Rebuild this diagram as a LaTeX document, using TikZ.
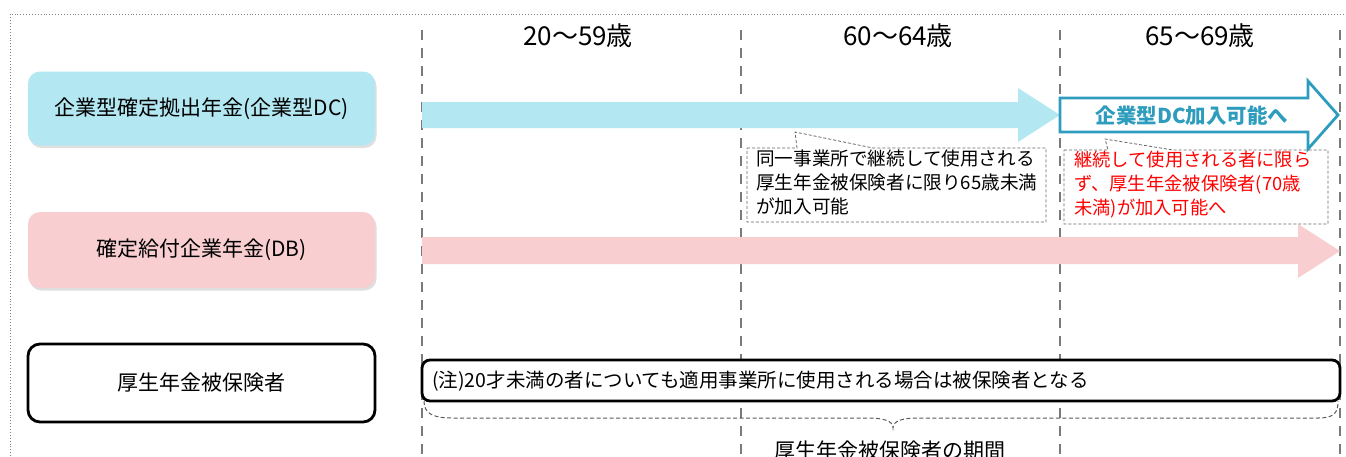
\documentclass[tikz,border=0pt]{standalone}
\usepackage{fontspec}
\setmainfont{Noto Sans CJK JP}
\usetikzlibrary{shadows}
\definecolor{dccyan}{HTML}{B3E7F1}
\definecolor{dbpink}{HTML}{F8CED1}
\definecolor{teal2}{HTML}{2E9DBD}
\definecolor{gridgray}{HTML}{7A7A7A}
\begin{document}
\begin{tikzpicture}[x=1pt,y=-1pt,
  agelabel/.style={font=\fontsize{26}{28}\selectfont, inner sep=0},
  leftbox/.style={rounded corners=12pt, minimum width=347pt, minimum height=74pt, inner sep=0,
     font=\fontsize{21}{24}\selectfont},
  shadowed/.style={drop shadow={opacity=0.25, shadow xshift=1.5pt, shadow yshift=-2.5pt}},
  vline/.style={gridgray, line width=2.8pt, dash pattern=on 10pt off 8pt},
  notebox/.style={draw=gray!80!black, densely dashed, line width=0.8pt},
  notetext/.style={font=\fontsize{18.6}{24}\selectfont, align=left, inner sep=0, anchor=north west},
]
\useasboundingbox (0,0) rectangle (1346,456);
% outer dotted frame
\draw[gray, dotted, line width=0.9pt] (10,456) -- (10,14) -- (1350,14);

% vertical dashed lines
\foreach \xx/\nm in {422/va,741/vb,1060/vc,1340/vd}{
  \coordinate (\nm t) at (\xx,30);
  \coordinate (\nm b) at (\xx,460);
  \draw[vline] (\nm t) -- (\nm b);
}

% age labels
\node[agelabel] (age1) at (578,36) {20～59歳};
\node[agelabel] (age2) at (898,36) {60～64歳};
\node[agelabel] (age3) at (1200,36) {65～69歳};

% left boxes
\node[leftbox, shadowed, fill=dccyan] (dc) at (201.5,108.5) {企業型確定拠出年金(企業型DC)};
\node[leftbox, shadowed, fill=dbpink, minimum height=76pt] (db) at (201.5,250) {確定給付企業年金(DB)};
\node[leftbox, draw=black, line width=2.8pt, fill=white, minimum height=78pt] (kosei) at (201.5,383) {厚生年金被保険者};

% blue solid arrow
\fill[dccyan] (422,102) -- (1018,102) -- (1018,88) -- (1060,115) -- (1018,142) -- (1018,128) -- (422,128) -- cycle;
% pink arrow
\fill[dbpink] (422,237) -- (1298,237) -- (1298,224) -- (1340,251) -- (1298,278) -- (1298,264) -- (422,264) -- cycle;
% outline arrow
\draw[teal2, line width=2.8pt, fill=white, line join=miter] (1060,98) -- (1308,98) -- (1308,81) -- (1338,115) -- (1308,149) -- (1308,132) -- (1060,132) -- cycle;
\node[font=\fontsize{20.5}{22}\selectfont\bfseries, text=teal2] (dcok) at (1192,115.5) {企業型DC加入可能へ};

% note 1
\draw[notebox] (747,148) -- (797,148) -- (795,132) -- (873,148) -- (1046,148) -- (1046,222) -- (747,222) -- cycle;
\node[notetext] (note1) at (756,150) {同一事業所で継続して使用される\\厚生年金被保険者に限り65歳未満\\が加入可能};
% note 2
\draw[notebox] (1064,150) -- (1108,150) -- (1105,139) -- (1173,150) -- (1328,150) -- (1328,224) -- (1064,224) -- cycle;
\node[notetext, font=\fontsize{18.3}{24}\selectfont, text=red] (note2) at (1074,151) {継続して使用される者に限ら\\ず、厚生年金被保険者(70歳\\未満)が加入可能へ};

% bottom note bar
\draw[black, line width=2.8pt, rounded corners=8pt, fill=white] (422,360) rectangle (1340,401);
\node[font=\fontsize{19.5}{21}\selectfont, anchor=west, inner sep=0] (chu) at (432,381) {(注)20才未満の者についても適用事業所に使用される場合は被保険者となる};

% brace
\draw[black!65, dash pattern=on 4pt off 2.5pt, line width=1pt] (424,401) .. controls (424,413) and (432,418) .. (452,418) -- (868,418) .. controls (884,418) and (893,421) .. (893,428) .. controls (893,421) and (902,418) .. (918,418) -- (1318,418) .. controls (1334,418) and (1338,413) .. (1338,401);
\node[font=\fontsize{21}{23}\selectfont, inner sep=0] (period) at (890,451) {厚生年金被保険者の期間};
\end{tikzpicture}
\end{document}
